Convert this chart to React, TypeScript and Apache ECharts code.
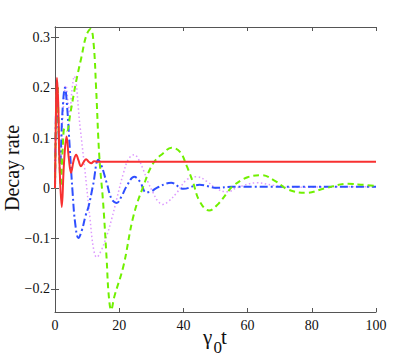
import React, { useEffect, useRef } from "react";
import * as echarts from "echarts";

const xTicks = [0, 20, 40, 60, 80, 100];
const yTicks = [-0.2, -0.1, 0, 0.1, 0.2, 0.3];

const redData: number[][] = [
  [0, 0.0], [0.3, 0.15], [0.6, 0.22], [1.0, 0.17], [1.4, 0.05], [2.1, -0.037],
  [2.8, 0.05], [3.6, 0.103], [4.3, 0.06], [5.0, 0.031], [5.8, 0.055], [6.6, 0.067],
  [7.3, 0.056], [8.1, 0.044], [8.9, 0.052], [9.7, 0.058], [10.5, 0.053], [11.3, 0.05],
  [12.2, 0.054], [13.5, 0.053], [100, 0.053],
];

const greenData: number[][] = [
  [0, 0], [0.35, 0.15], [0.7, 0.21], [1.2, 0.1], [1.8, 0.005], [2.4, 0.08], [3.0, 0.12],
  [3.7, 0.115], [4.8, 0.15], [6.5, 0.21], [8.2, 0.26], [9.8, 0.305], [11.1, 0.317],
  [12.0, 0.29], [12.8, 0.2], [13.8, 0.064], [15, -0.029], [16.1, -0.142], [16.7, -0.21],
  [17.5, -0.242], [18.5, -0.215], [21.3, -0.155], [24.4, -0.056], [27.5, 0.004],
  [30.6, 0.05], [33.7, 0.07], [36.3, 0.081], [39, 0.072], [41, 0.045], [43, 0.012],
  [45, -0.025], [48, -0.044], [51, -0.03], [53.5, -0.01], [55.5, 0.005], [60, 0.022],
  [64.4, 0.026], [68.5, 0.015], [72.5, -0.002], [78.4, -0.009], [84, 0.0], [91.3, 0.009],
  [96, 0.007], [100, 0.005],
];

const blueData: number[][] = [
  [0, 0], [0.3, 0.15], [0.6, 0.2], [1.0, 0.13], [1.6, 0.05], [2.3, 0.15], [3.1, 0.2],
  [3.8, 0.16], [4.6, 0.08], [5.5, -0.01], [6.3, -0.07], [7.3, -0.099], [8.3, -0.085],
  [9.5, -0.055], [10.5, -0.035], [11.9, 0.008], [13.5, 0.057], [14.5, 0.045], [16.1, 0.011],
  [17.7, -0.022], [19.2, -0.029], [20.8, -0.015], [22.3, 0.004], [24.7, 0.023], [26.5, 0.013],
  [28.4, -0.008], [30, -0.006], [31.7, 0.001], [36.2, 0.011], [40, -0.001], [45, 0.007],
  [50.4, 0.001], [55, 0.003], [100, 0.003],
];

const magentaData: number[][] = [
  [0, 0], [0.3, 0.14], [0.6, 0.2], [1.1, 0.12], [1.7, 0.05], [2.5, 0.15], [3.4, 0.205],
  [4.1, 0.17], [4.6, 0.15], [5.2, 0.19], [6.0, 0.223], [7.8, 0.123], [9.3, 0.037],
  [10.9, -0.06], [12, -0.12], [13, -0.137], [14.3, -0.125], [16.1, -0.095], [17.7, -0.06],
  [19.2, -0.022], [21.3, 0.03], [22.9, 0.058], [24.7, 0.067], [26, 0.058], [27.5, 0.037],
  [29, 0.012], [30.6, -0.009], [32, -0.025], [33.6, -0.032], [35.5, -0.025], [37.9, -0.009],
  [41, 0.017], [44.1, 0.023], [47.3, 0.014], [50.4, -0.001], [53.7, -0.007], [56.6, 0.001],
  [62.8, 0.011], [68, 0.006], [72, 0.002], [78, 0.002], [85, 0.003], [100, 0.003],
];

const fmtY = (v: number) =>
  v === 0 ? "0" : v < 0 ? "\u2212" + Math.abs(v).toFixed(1) : v.toFixed(1);

export default function App() {
  const ref = useRef<HTMLDivElement>(null);
  useEffect(() => {
    if (!ref.current) return;
    const chart = echarts.init(ref.current, undefined, { renderer: "svg" });
    const axisColor = "#555";
    const font = "'Liberation Serif', 'Times New Roman', 'DejaVu Serif', serif";
    const yMin = -0.246;
    const yMax = 0.321;
    const baseY = {
      type: "value" as const,
      min: yMin,
      max: yMax,
      splitLine: { show: false },
      axisLine: { show: true, lineStyle: { color: axisColor, width: 1 } },
    };
    const baseX = {
      type: "value" as const,
      min: 0,
      max: 100,
      interval: 20,
      splitLine: { show: false },
      axisLine: { show: true, onZero: false, lineStyle: { color: axisColor, width: 1 } },
    };
    chart.setOption({
      animation: false,
      backgroundColor: "#fff",
      grid: { left: 55, top: 27, right: 39, bottom: 49 },
      xAxis: [
        {
          ...baseX,
          position: "bottom",
          axisTick: { inside: true, length: 4, lineStyle: { color: axisColor } },
          axisLabel: {
            color: "#111",
            fontFamily: font,
            fontSize: 14,
            margin: 6,
            customValues: xTicks,
          },
        },
        {
          ...baseX,
          position: "top",
          axisTick: { inside: true, length: 4, lineStyle: { color: axisColor } },
          axisLabel: { show: false },
        },
      ],
      yAxis: [
        {
          ...baseY,
          position: "left",
          axisTick: {
            inside: true,
            length: 4,
            customValues: yTicks,
            lineStyle: { color: axisColor },
          },
          axisLabel: {
            color: "#111",
            fontFamily: font,
            fontSize: 14,
            margin: 5,
            customValues: yTicks,
            formatter: fmtY,
          },
        },
        {
          ...baseY,
          position: "right",
          axisTick: {
            inside: true,
            length: 4,
            customValues: yTicks,
            lineStyle: { color: axisColor },
          },
          axisLabel: { show: false },
        },
      ],
      graphic: [
        {
          type: "text",
          x: 12,
          y: 168,
          rotation: Math.PI / 2,
          style: {
            text: "Decay rate",
            fontFamily: font,
            fontSize: 20,
            fill: "#111",
            align: "center",
            verticalAlign: "middle",
          },
        },
        {
          type: "text",
          x: 203,
          y: 347,
          style: {
            text: "\u03b3",
            fontFamily: font,
            fontSize: 21,
            fill: "#111",
            align: "left",
            verticalAlign: "bottom",
          },
        },
        {
          type: "text",
          x: 213.5,
          y: 356,
          style: {
            text: "0",
            fontFamily: font,
            fontSize: 17,
            fill: "#111",
            align: "left",
            verticalAlign: "bottom",
          },
        },
        {
          type: "text",
          x: 221,
          y: 347,
          style: {
            text: "t",
            fontFamily: font,
            fontSize: 21,
            fill: "#111",
            align: "left",
            verticalAlign: "bottom",
          },
        },
      ],
      series: [
        {
          type: "line",
          data: magentaData,
          smooth: 0.4,
          showSymbol: false,
          lineStyle: { color: "#dd99ff", width: 1.5, type: [1.5, 2.5] },
        },
        {
          type: "line",
          data: blueData,
          smooth: 0.4,
          showSymbol: false,
          lineStyle: { color: "#2f4fff", width: 2, type: [8, 3, 2, 3] },
        },
        {
          type: "line",
          data: greenData,
          smooth: 0.4,
          showSymbol: false,
          lineStyle: { color: "#70f000", width: 2, type: [6, 4] },
        },
        {
          type: "line",
          data: redData,
          smooth: 0.4,
          showSymbol: false,
          lineStyle: { color: "#f83030", width: 2 },
        },
      ],
    });
    return () => chart.dispose();
  }, []);
  return (
    <div
      ref={ref}
      style={{ position: "fixed", left: 0, top: 0, width: 415, height: 361 }}
    />
  );
}
